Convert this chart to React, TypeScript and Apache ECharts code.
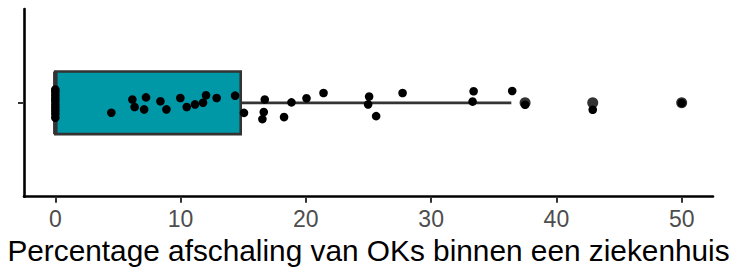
import React, { useEffect, useRef } from "react";
import * as echarts from "echarts";

// x-axis tick labels
const xTicks = [0, 10, 20, 30, 40, 50];
// box statistics: lower whisker, Q1, median, Q3, upper whisker
const boxStats = [0, 0, 0, 14.8, 36.4];
// outliers drawn by the boxplot
const outliers = [37.5, 42.9, 50];
// individual observations (percentage) and their vertical jitter around category 1
const pointValues = [
  0, 0, 0, 0, 0, 0, 0, 0, 0, 0,
  4.47, 6.15, 6.33, 7.09, 7.24, 8.39, 8.87, 9.98, 10.49, 11.15,
  11.79, 12.03, 12.88, 14.35, 15.06, 16.72, 16.64, 16.53, 18.26, 18.85,
  20.05, 21.41, 25.05, 24.97, 25.61, 27.72, 33.39, 33.31, 36.47, 37.5,
  42.9, 50,
];
const pointJitter = [
  1.085, 1.07, 1.05, 1.03, 1.012, 0.99, 0.97, 0.95, 0.93, 0.905,
  0.937, 1.021, 0.973, 0.958, 1.035, 1.01, 0.958, 1.031, 0.973, 0.99,
  1.001, 1.048, 1.031, 1.046, 0.936, 1.021, 0.941, 0.896, 0.909, 1.003,
  1.029, 1.063, 1.04, 0.99, 0.915, 1.063, 1.074, 1.008, 1.076, 0.988,
  0.956, 0.999,
];
const xTitle = "Percentage afschaling van OKs binnen een ziekenhuis";

const FONT = "'Liberation Sans', Arial, Helvetica, sans-serif";

export default function App() {
  const ref = useRef<HTMLDivElement>(null);
  useEffect(() => {
    if (!ref.current) return;
    const chart = echarts.init(ref.current, undefined, { renderer: "svg" });
    const half = 0.2;
    chart.setOption({
      animation: false,
      grid: { left: 24, right: 16, top: 9, bottom: 74.3, outerBoundsMode: "none", containLabel: false },
      xAxis: {
        type: "value",
        min: -2.5,
        max: 52.5,
        splitLine: { show: false },
        axisLine: { show: true, onZero: false, lineStyle: { color: "#000", width: 2.6 } },
        axisTick: {
          show: true,
          customValues: xTicks,
          length: 6,
          lineStyle: { color: "#333", width: 2 },
        },
        axisLabel: {
          customValues: xTicks,
          fontSize: 23,
          color: "#4D4D4D",
          fontFamily: FONT,
          margin: 11,
        },
        name: xTitle,
        nameLocation: "middle",
        nameGap: 38,
        nameTextStyle: { fontSize: 29.8, color: "#000", fontFamily: FONT },
      },
      yAxis: {
        type: "value",
        min: 0.4,
        max: 1.6,
        splitLine: { show: false },
        axisLine: { show: true, onZero: false, lineStyle: { color: "#000", width: 2.6 } },
        axisTick: {
          show: true,
          customValues: [1],
          length: 6,
          lineStyle: { color: "#333", width: 2 },
        },
        axisLabel: { show: false },
      },
      series: [
        {
          type: "custom",
          data: [[...boxStats, 1]],
          encode: { x: [0, 1, 2, 3, 4], y: 5 },
          z: 1,
          renderItem: (params: any, api: any) => {
            const lo = api.value(0);
            const q1 = api.value(1);
            const med = api.value(2);
            const q3 = api.value(3);
            const hi = api.value(4);
            const c = api.value(5);
            const tl = api.coord([q1, c + half]);
            const br = api.coord([q3, c - half]);
            const pq3 = api.coord([q3, c]);
            const phi = api.coord([hi, c]);
            const pq1 = api.coord([q1, c]);
            const plo = api.coord([lo, c]);
            const mt = api.coord([med, c + half]);
            const mb = api.coord([med, c - half]);
            return {
              type: "group",
              children: [
                {
                  type: "line",
                  shape: { x1: pq3[0], y1: pq3[1], x2: phi[0], y2: phi[1] },
                  style: { stroke: "#333333", lineWidth: 2.6 },
                },
                {
                  type: "line",
                  shape: { x1: plo[0], y1: plo[1], x2: pq1[0], y2: pq1[1] },
                  style: { stroke: "#333333", lineWidth: 2.6 },
                },
                {
                  type: "rect",
                  shape: { x: tl[0], y: tl[1], width: br[0] - tl[0], height: br[1] - tl[1] },
                  style: { fill: "#0097A7", stroke: "#333333", lineWidth: 2.6 },
                },
                {
                  type: "line",
                  shape: { x1: mt[0], y1: mt[1], x2: mb[0], y2: mb[1] },
                  style: { stroke: "#333333", lineWidth: 4.5 },
                },
              ],
            };
          },
        },
        {
          type: "scatter",
          z: 2,
          symbolSize: 11,
          itemStyle: { color: "#333333", opacity: 1 },
          data: outliers.map((v) => [v, 1]),
        },
        {
          type: "scatter",
          z: 3,
          symbolSize: 8.6,
          itemStyle: { color: "#000000", opacity: 1 },
          data: pointValues.map((v, i) => [v, pointJitter[i]]),
        },
      ],
    });
    return () => chart.dispose();
  }, []);
  return (
    <div
      ref={ref}
      style={{ position: "fixed", left: 0, top: 0, width: 729, height: 271, background: "#fff" }}
    />
  );
}
